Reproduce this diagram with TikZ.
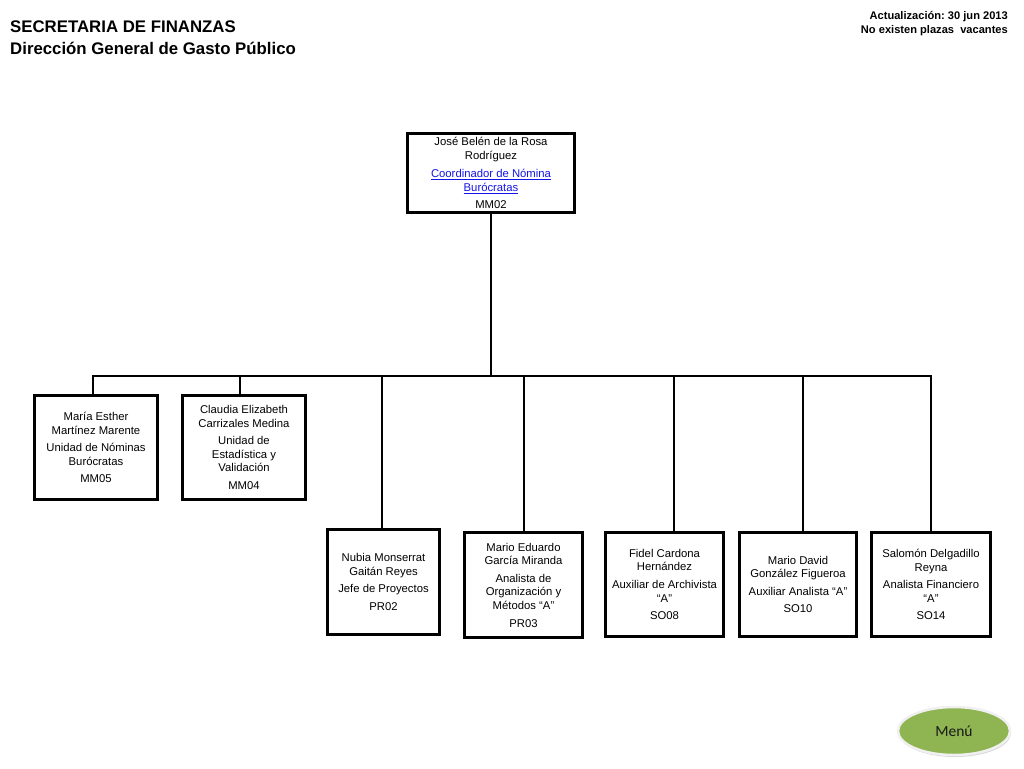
\documentclass[tikz,border=0pt]{standalone}
\usepackage{fontspec}
\setmainfont{Liberation Sans}
\newfontfamily\carlito{Carlito}
\usetikzlibrary{shapes.geometric,shadows}
\definecolor{linkblue}{RGB}{20,20,230}
\definecolor{menugreen}{RGB}{143,180,82}
\newcommand{\lnk}[1]{\textcolor{linkblue}{\underline{#1}}}
\frenchspacing
\begin{document}
\begin{tikzpicture}[x=1pt,y=-1pt,
  box/.style={draw, line width=2.8pt, inner sep=0pt, align=center,
    font=\fontsize{11.3}{13.6}\selectfont},
  conn/.style={line width=2.8pt},
  hdr/.style={inner sep=0pt, font=\bfseries\fontsize{16.8}{17}\selectfont, anchor=west},
  upd/.style={inner sep=0pt, font=\bfseries\fontsize{11.1}{13}\selectfont, anchor=east}]
\useasboundingbox (0,0) rectangle (1024,768);
\fill[white] (0,0) rectangle (1024,768);

\node[hdr] (t1) at (10,27) {SECRETARIA DE FINANZAS};
\node[hdr] (t2) at (10,48) {Dirección General de Gasto Público};
\node[upd] (u1) at (1008,17) {Actualización: 30 jun 2013};
\node[upd] (u2) at (1008,31) {No existen plazas\ \ vacantes};

\node[box, minimum width=167, minimum height=79] (top) at (491,173)
 {José Belén de la Rosa\\Rodríguez\\[5pt]\lnk{Coordinador de Nómina}\\\lnk{Burócratas}\\[4pt]MM02};

\node[box, minimum width=123, minimum height=104] (b1) at (96,447.5)
 {María Esther\\Martínez Marente\\[4pt]Unidad de Nóminas\\Burócratas\\[4pt]MM05};
\node[box, minimum width=123, minimum height=104] (b2) at (244,447.5)
 {Claudia Elizabeth\\Carrizales Medina\\[4pt]Unidad de\\Estadística y\\Validación\\[4pt]MM04};
\node[box, minimum width=112, minimum height=105] (b3) at (383.5,582)
 {Nubia Monserrat\\Gaitán Reyes\\[4pt]Jefe de Proyectos\\[4pt]PR02};
\node[box, minimum width=118, minimum height=105] (b4) at (523.5,585)
 {Mario Eduardo\\García Miranda\\[4pt]Analista de\\Organización y\\Métodos “A”\\[4pt]PR03};
\node[box, minimum width=118, minimum height=104] (b5) at (664.5,584.5)
 {Fidel Cardona\\Hernández\\[4pt]Auxiliar de Archivista\\“A”\\[4pt]SO08};
\node[box, minimum width=117, minimum height=104] (b6) at (798,584.5)
 {Mario David\\González Figueroa\\[4pt]Auxiliar Analista “A”\\[4pt]SO10};
\node[box, minimum width=119, minimum height=104] (b7) at (931,584.5)
 {Salomón Delgadillo\\Reyna\\[4pt]Analista Financiero\\“A”\\[4pt]SO14};

\coordinate (p1) at (93,376);
\coordinate (p2) at (240,376);
\coordinate (p3) at (382,376);
\coordinate (p4) at (524,376);
\coordinate (p5) at (674,376);
\coordinate (p6) at (803,376);
\coordinate (p7) at (931,376);

\draw[conn] (top.south) -- (top.south |- p1);
\draw[conn] ([xshift=-1.4pt]p1) -- ([xshift=1.4pt]p7);
\draw[conn] (p1) -- (p1 |- b1.north);
\draw[conn] (p2) -- (p2 |- b2.north);
\draw[conn] (p3) -- (p3 |- b3.north);
\draw[conn] (p4) -- (p4 |- b4.north);
\draw[conn] (p5) -- (p5 |- b5.north);
\draw[conn] (p6) -- (p6 |- b6.north);
\draw[conn] (p7) -- (p7 |- b7.north);

\node[ellipse, fill=menugreen, draw=gray!12, line width=2.5pt,
  minimum width=112, minimum height=48, inner sep=0pt,
  drop shadow={shadow xshift=1pt, shadow yshift=-2pt, opacity=0.3},
  font=\carlito\fontsize{15.5}{16}\selectfont, text=black!90] (menu) at (954,731) {Menú};
\end{tikzpicture}
\end{document}
